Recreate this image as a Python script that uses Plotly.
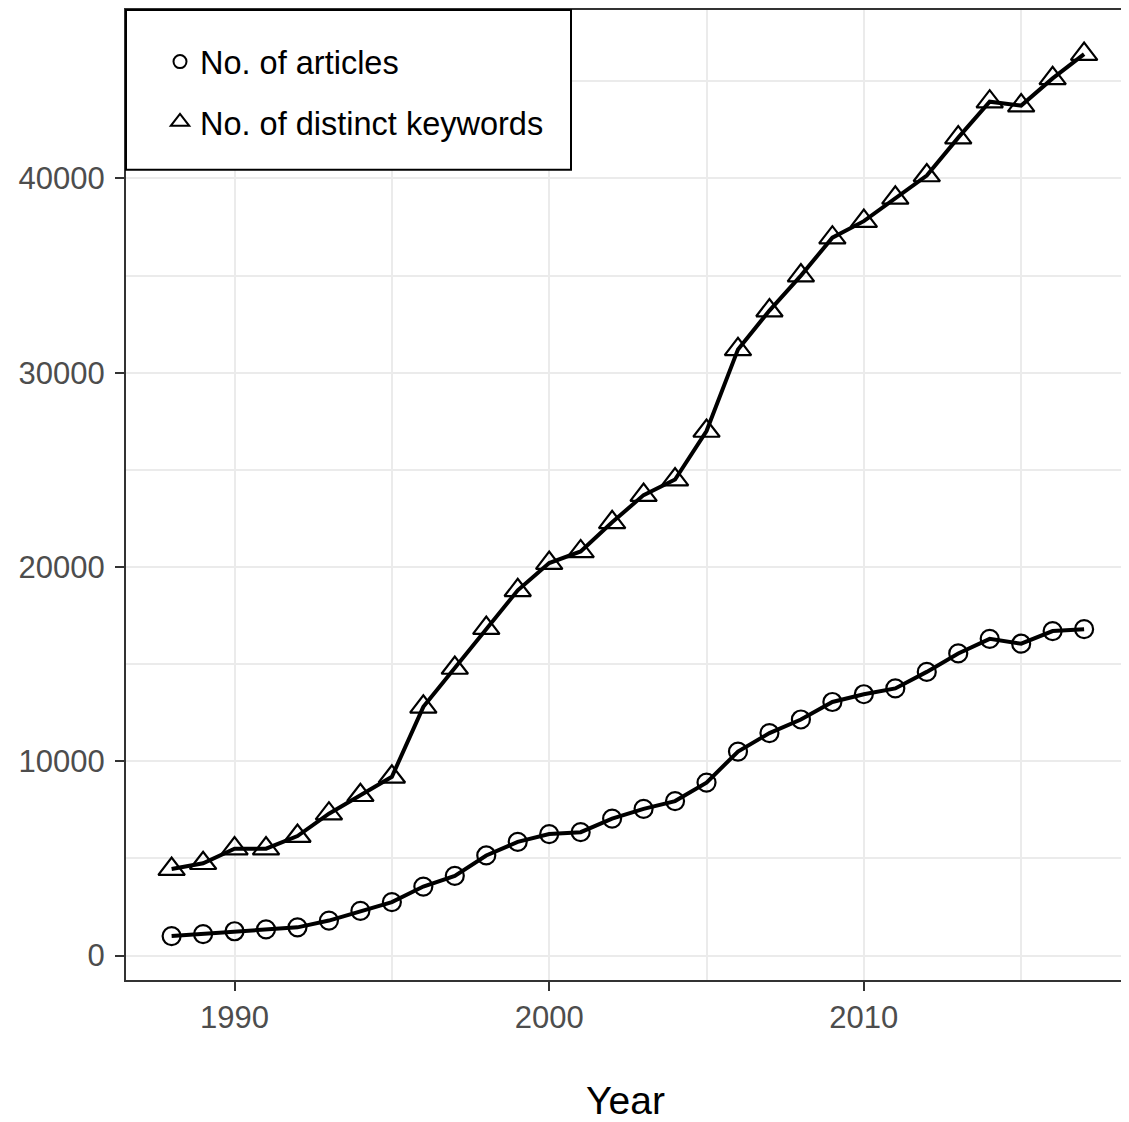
import plotly.graph_objects as go

years = list(range(1988, 2018))
articles = [1000, 1100, 1250, 1350, 1450, 1800, 2300, 2750, 3550, 4100,
            5150, 5850, 6250, 6350, 7050, 7550, 7950, 8900, 10500, 11450,
            12150, 13050, 13450, 13750, 14600, 15550, 16300, 16050, 16700, 16800]
keywords = [4450, 4750, 5500, 5500, 6150, 7300, 8250, 9200, 12800, 14800,
            16850, 18800, 20200, 20800, 22300, 23700, 24500, 27000, 31200, 33200,
            35000, 36950, 37800, 39000, 40150, 42100, 43950, 43750, 45150, 46400]
series_names = ["No. of articles", "No. of distinct keywords"]
x_ticks = [1990, 2000, 2010]
y_ticks = [0, 10000, 20000, 30000, 40000]
y_tick_labels = ["0", "10000", "20000", "30000", "40000"]

FONT = "Liberation Sans, Arial, sans-serif"

fig = go.Figure()
fig.add_trace(go.Scatter(
    x=years, y=articles, mode="lines+markers", showlegend=False,
    line=dict(color="black", width=4),
    marker=dict(symbol="circle-open", size=18, color="black", line=dict(width=2.2))))
fig.add_trace(go.Scatter(
    x=years, y=keywords, mode="lines+markers", showlegend=False,
    line=dict(color="black", width=4),
    marker=dict(symbol="triangle-up-open", size=23, color="black", line=dict(width=2.2))))

# legend-only entries (symbols only, as in the reference)
fig.add_trace(go.Scatter(
    x=[None], y=[None], mode="markers", name=series_names[0], legendgroup="a",
    marker=dict(symbol="circle-open", size=13, color="black", line=dict(width=2))))
fig.add_trace(go.Scatter(
    x=[None], y=[None], mode="markers", name=series_names[1], legendgroup="b",
    marker=dict(symbol="triangle-up-open", size=16, color="black", line=dict(width=2))))

# the page body adds an 8px offset; compensate so the panel lands where the reference has it
OFF = 8
W, H = 1129 - OFF, 1122 - OFF
ml, mr, mt, mb = 126 - OFF, 4, 8 - OFF, 142
pw = W - ml - mr
ph = H - mt - mb

# legend frame (ggplot-style box)
fig.add_shape(type="rect", xref="paper", yref="paper",
              x0=0, x1=(571 - 126) / pw, y0=1 - (168 - 8) / ph, y1=1,
              line=dict(color="black", width=2), fillcolor="white", layer="above")

fig.update_layout(
    width=W, height=H,
    margin=dict(l=ml, r=mr, t=mt, b=mb),
    paper_bgcolor="white", plot_bgcolor="white",
    font=dict(family=FONT, size=32, color="black"),
    legend=dict(
        x=(160 - 126) / pw, y=1 - (32 - 8) / ph, xanchor="left", yanchor="top",
        bgcolor="rgba(0,0,0,0)", borderwidth=0,
        font=dict(family=FONT, size=32.5, color="black"),
        tracegroupgap=15, itemsizing="trace"),
    xaxis=dict(
        range=[1986.55, 2018.3], tickvals=x_ticks, ticks="outside", ticklen=9,
        tickwidth=2, tickcolor="#333333",
        tickfont=dict(family=FONT, size=31, color="#4d4d4d"),
        showgrid=True, gridcolor="#ebebeb", gridwidth=2,
        minor=dict(dtick=5, tick0=1985, showgrid=True, gridcolor="#ebebeb", gridwidth=1.5, ticks=""),
        showline=True, linecolor="#333333", linewidth=2, mirror=True,
        zeroline=False, ticklabelstandoff=0,
        title=dict(text="Year", font=dict(family=FONT, size=39, color="black"), standoff=57)),
    yaxis=dict(
        range=[-1260, 48670], tickvals=y_ticks, ticktext=y_tick_labels,
        ticks="outside", ticklen=9,
        tickwidth=2, tickcolor="#333333",
        tickfont=dict(family=FONT, size=31, color="#4d4d4d"),
        showgrid=True, gridcolor="#ebebeb", gridwidth=2,
        minor=dict(dtick=5000, tick0=0, showgrid=True, gridcolor="#ebebeb", gridwidth=1.5, ticks=""),
        showline=True, linecolor="#333333", linewidth=2, mirror=True,
        zeroline=False, ticklabelstandoff=4),
)

fig.write_html("out.html")
